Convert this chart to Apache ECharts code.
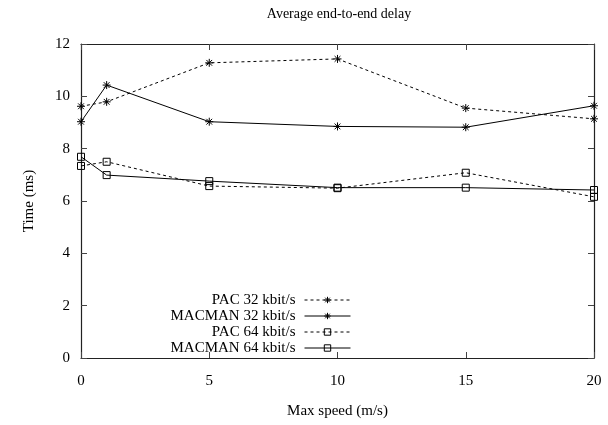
<!DOCTYPE html>
<html><head><meta charset="utf-8">
<script src="https://cdn.jsdelivr.net/npm/echarts@6/dist/echarts.min.js"></script>
<style>html,body{margin:0;padding:0;background:#fff}#c{width:608px;height:425px}</style>
</head><body><div id="c"></div>
<script>
const speeds = [0, 1, 5, 10, 15, 20];
const pac32 = [9.62, 9.79, 11.28, 11.43, 9.55, 9.14];
const macman32 = [9.03, 10.43, 9.03, 8.85, 8.82, 9.64];
const pac64 = [7.34, 7.50, 6.57, 6.49, 7.08, 6.16];
const macman64 = [7.69, 6.99, 6.76, 6.51, 6.51, 6.42];
const seriesNames = ['PAC 32 kbit/s', 'MACMAN 32 kbit/s', 'PAC 64 kbit/s', 'MACMAN 64 kbit/s'];
const xTicks = [0, 5, 10, 15, 20];
const yTicks = [0, 2, 4, 6, 8, 10, 12];

const FONT = 'Liberation Serif';
const star = 'path://M0,-5L0,5M-5,0L5,0M-3.6,-3.6L3.6,3.6M-3.6,3.6L3.6,-3.6';
function pairs(vals){ return speeds.map((s,i)=>[s, vals[i]]); }
function mk(name, vals, dashed, sym){
  return {
    name, type:'line', data:pairs(vals), symbol:sym, symbolSize: sym==='rect'?7:8,
    lineStyle:{color:'#000', width:1, type: dashed?[3,3]:'solid'},
    itemStyle:{color:'rgba(0,0,0,0)', borderColor:'#000', borderWidth:1},
    emphasis:{disabled:true}, animation:false, z:3
  };
}
const line = {show:true, onZero:false, lineStyle:{color:'#222', width:1.2}};
const tickX = {show:true, inside:true, length:6, customValues:xTicks, lineStyle:{color:'#444', width:1}};
const tickY = {show:true, inside:true, length:6, customValues:yTicks, lineStyle:{color:'#444', width:1}};
const chart = echarts.init(document.getElementById('c'), null, {renderer:'canvas'});
chart.setOption({
  backgroundColor:'#fff',
  animation:false,
  title:{text:'Average end-to-end delay', left:334, top:2, textAlign:'center',
    textStyle:{fontFamily:FONT, fontSize:14, fontWeight:'normal', color:'#000'}},
  grid:{left:81, right:14, top:44, bottom:67},
  legend:{
    orient:'vertical', align:'right', right:252, top:287, itemWidth:46, itemHeight:8, itemGap:0,
    data:seriesNames,
    lineStyle:{width:1},
    itemStyle:{color:'rgba(0,0,0,0)', borderColor:'#000', borderWidth:1},
    textStyle:{fontFamily:FONT, fontSize:15, color:'#000', lineHeight:16, padding:[0,4,0,0]}
  },
  xAxis:[
    {type:'value', min:0, max:20, interval:5, position:'bottom',
      name:'Max speed (m/s)', nameLocation:'middle', nameGap:46,
      nameTextStyle:{fontFamily:FONT, fontSize:15, color:'#000'},
      axisLabel:{fontFamily:FONT, fontSize:15, color:'#000', margin:16, customValues:xTicks},
      axisLine:line, axisTick:tickX, splitLine:{show:false}},
    {type:'value', min:0, max:20, interval:5, position:'top', axisLabel:{show:false},
      axisLine:line, axisTick:tickX, splitLine:{show:false}}
  ],
  yAxis:[
    {type:'value', min:0, max:12, interval:2, position:'left',
      name:'Time (ms)', nameLocation:'middle', nameGap:44,
      nameTextStyle:{fontFamily:FONT, fontSize:15, color:'#000'},
      axisLabel:{fontFamily:FONT, fontSize:15, color:'#000', margin:11, customValues:yTicks},
      axisLine:line, axisTick:tickY, splitLine:{show:false}},
    {type:'value', min:0, max:12, interval:2, position:'right', axisLabel:{show:false},
      axisLine:line, axisTick:tickY, splitLine:{show:false}}
  ],
  series:[
    mk(seriesNames[0], pac32, true, star),
    mk(seriesNames[1], macman32, false, star),
    mk(seriesNames[2], pac64, true, 'rect'),
    mk(seriesNames[3], macman64, false, 'rect')
  ]
});
</script>
</body></html>
